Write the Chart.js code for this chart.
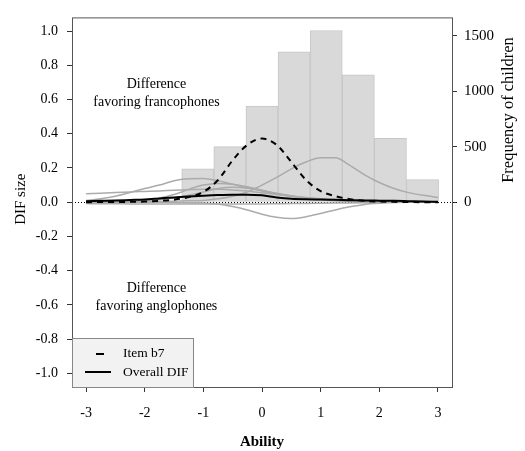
<!DOCTYPE html>
<html>
<head>
<meta charset="utf-8">
<script src="https://cdn.jsdelivr.net/npm/chart.js@4"></script>
<style>
  body { margin: 0; background: #fff; }
  canvas { display: block; }
</style>
</head>
<body>
<canvas id="difChart" width="525" height="451"></canvas>
<script>
// ===================================
// DIF CURVES + ABILITY HISTOGRAM
// ===================================

// histogram of ability (right axis)
const binCenters = [-1.095, -0.5475, 0, 0.5475, 1.095, 1.6425, 2.19, 2.7375];
const binCounts  = [300, 500, 866, 1355, 1546, 1146, 576, 203];

// ability grid the curves are read at
const abilityGrid = [-3, -2.75, -2.5, -2.25, -2, -1.75, -1.5, -1.25, -1, -0.75, -0.5, -0.25,
                     0, 0.25, 0.5, 0.75, 1, 1.25, 1.5, 1.75, 2, 2.25, 2.5, 2.75, 3];

// highlighted item and overall DIF
const itemB7     = [0, 0.001, 0.001, 0.002, 0.004, 0.008, 0.015, 0.03, 0.06, 0.13, 0.245, 0.335,
                    0.372, 0.335, 0.235, 0.13, 0.065, 0.035, 0.018, 0.008, 0.004, 0.002, 0.001, 0, 0];
const overallDif = [0.006, 0.008, 0.010, 0.013, 0.016, 0.022, 0.028, 0.033, 0.038, 0.042, 0.044, 0.044,
                    0.040, 0.028, 0.020, 0.017, 0.016, 0.014, 0.012, 0.010, 0.009, 0.008, 0.006, 0.004, 0.003];

// other items (gray)
const otherItems = [
    [0, 0, 0.001, 0.002, 0.003, 0.004, 0.006, 0.008, 0.01, 0.02, 0.035, 0.06,
     0.10, 0.145, 0.195, 0.235, 0.26, 0.26, 0.215, 0.16, 0.115, 0.08, 0.056, 0.04, 0.028],
    [0, 0, 0, 0, 0, -0.001, -0.002, -0.003, -0.004, -0.01, -0.025, -0.045,
     -0.07, -0.088, -0.095, -0.085, -0.066, -0.045, -0.027, -0.013, -0.006, -0.002, 0, 0, 0],
    [0.01, 0.02, 0.035, 0.057, 0.08, 0.1, 0.125, 0.137, 0.138, 0.125, 0.105, 0.085,
     0.065, 0.048, 0.035, 0.025, 0.017, 0.012, 0.008, 0.005, 0.003, 0.002, 0.001, 0, 0],
    [0.05, 0.053, 0.056, 0.06, 0.063, 0.066, 0.07, 0.073, 0.075, 0.075, 0.072, 0.065,
     0.055, 0.045, 0.035, 0.027, 0.02, 0.015, 0.01, 0.007, 0.004, 0.002, 0.001, 0, 0],
    [0, 0.002, 0.005, 0.009, 0.015, 0.025, 0.045, 0.075, 0.1, 0.11, 0.105, 0.09,
     0.07, 0.05, 0.035, 0.022, 0.014, 0.008, 0.005, 0.003, 0.002, 0.001, 0, 0, 0],
    [0, 0.002, 0.004, 0.006, 0.008, 0.015, 0.025, 0.04, 0.06, 0.08, 0.088, 0.082,
     0.068, 0.052, 0.038, 0.026, 0.017, 0.011, 0.007, 0.004, 0.002, 0.001, 0, 0, 0],
    [-0.008, -0.009, -0.009, -0.01, -0.01, -0.01, -0.01, -0.01, -0.01, -0.01, -0.01, -0.01,
     -0.01, -0.009, -0.008, -0.007, -0.006, -0.005, -0.004, -0.003, -0.002, -0.001, 0, 0, 0]
];

// axis ticks
const abilityTicks = [-3, -2, -1, 0, 1, 2, 3];
const difTicks     = [-1.0, -0.8, -0.6, -0.4, -0.2, 0.0, 0.2, 0.4, 0.6, 0.8, 1.0];
const freqTicks    = [0, 500, 1000, 1500];

const FONT = '"Liberation Serif", "Times New Roman", serif';
const GRAY = '#ababab';

function toPoints(values) {
    return abilityGrid.map((a, i) => ({ x: a, y: values[i] }));
}

// box, zero line, annotations, titles and legend
const decorPlugin = {
    id: 'decor',
    beforeDatasetsDraw(chart) {
        const { ctx, chartArea: a, scales } = chart;
        const y0 = Math.round(scales.y.getPixelForValue(0));
        ctx.save();
        ctx.strokeStyle = '#000';
        ctx.lineWidth = 1;
        ctx.setLineDash([1, 2]);
        ctx.beginPath();
        ctx.moveTo(a.left, y0 + 0.5);
        ctx.lineTo(a.right + 6, y0 + 0.5);
        ctx.stroke();
        ctx.restore();
    },
    afterDraw(chart) {
        const { ctx, chartArea: a, scales } = chart;
        ctx.save();

        // plot box
        ctx.strokeStyle = '#555';
        ctx.lineWidth = 1;
        ctx.strokeRect(a.left + 0.5, a.top + 0.5, a.right - a.left, a.bottom - a.top);

        // annotations
        ctx.fillStyle = '#000';
        ctx.font = '14px ' + FONT;
        ctx.textAlign = 'center';
        ctx.textBaseline = 'middle';
        const tx = scales.x.getPixelForValue(-1.8);
        ctx.fillText('Difference', tx, scales.y.getPixelForValue(0.69));
        ctx.fillText('favoring francophones', tx, scales.y.getPixelForValue(0.585));
        ctx.fillText('Difference', tx, scales.y.getPixelForValue(-0.505));
        ctx.fillText('favoring anglophones', tx, scales.y.getPixelForValue(-0.61));

        // axis titles
        ctx.font = 'bold 15px ' + FONT;
        ctx.fillText('Ability', (a.left + a.right) / 2, 442);
        ctx.font = '15px ' + FONT;
        ctx.save();
        ctx.translate(21, (a.top + a.bottom) / 2 - 3);
        ctx.rotate(-Math.PI / 2);
        ctx.fillText('DIF size', 0, 0);
        ctx.restore();
        ctx.font = '16.5px ' + FONT;
        ctx.save();
        ctx.translate(509, 110);
        ctx.rotate(-Math.PI / 2);
        ctx.fillText('Frequency of children', 0, 0);
        ctx.restore();

        // legend box
        const lx = a.left, ly = 338, lw = 121, lh = a.bottom - 338;
        ctx.fillStyle = '#f2f2f2';
        ctx.fillRect(lx, ly, lw, lh);
        ctx.strokeStyle = '#888';
        ctx.strokeRect(lx + 0.5, ly + 0.5, lw, lh);
        ctx.strokeStyle = '#000';
        ctx.lineWidth = 2;
        ctx.beginPath();
        ctx.moveTo(96, 354);
        ctx.lineTo(104, 354);
        ctx.stroke();
        ctx.beginPath();
        ctx.moveTo(85, 372);
        ctx.lineTo(111, 372);
        ctx.stroke();
        ctx.fillStyle = '#000';
        ctx.font = '13.5px ' + FONT;
        ctx.textAlign = 'left';
        ctx.fillText('Item b7', 123, 353.5);
        ctx.fillText('Overall DIF', 123, 372);

        ctx.restore();
    }
};

const datasets = [];

datasets.push({
    type: 'bar',
    label: 'Frequency',
    yAxisID: 'y2',
    data: binCenters.map((c, i) => ({ x: c, y: binCounts[i] })),
    backgroundColor: '#d9d9d9',
    borderColor: '#c6c6c6',
    borderWidth: 1,
    barPercentage: 1,
    categoryPercentage: 1,
    order: 10
});

otherItems.forEach((vals, i) => {
    datasets.push({
        type: 'line',
        label: 'Item ' + (i + 1),
        yAxisID: 'y',
        data: toPoints(vals),
        borderColor: GRAY,
        borderWidth: 1.5,
        pointRadius: 0,
        cubicInterpolationMode: 'monotone',
        order: 5
    });
});

datasets.push({
    type: 'line',
    label: 'Overall DIF',
    yAxisID: 'y',
    data: toPoints(overallDif),
    borderColor: '#000',
    borderWidth: 2,
    pointRadius: 0,
    cubicInterpolationMode: 'monotone',
    order: 2
});

datasets.push({
    type: 'line',
    label: 'Item b7',
    yAxisID: 'y',
    data: toPoints(itemB7),
    borderColor: '#000',
    borderWidth: 2,
    borderDash: [6, 5],
    pointRadius: 0,
    cubicInterpolationMode: 'monotone',
    order: 1
});

const tickStyle = { color: '#000', font: { family: FONT, size: 14 } };

new Chart(document.getElementById('difChart').getContext('2d'), {
    type: 'line',
    data: { datasets: datasets },
    options: {
        responsive: false,
        animation: false,
        layout: { padding: { top: 8, left: 0, right: 0, bottom: 0 } },
        plugins: { legend: { display: false }, tooltip: { enabled: false } },
        scales: {
            x: {
                type: 'linear',
                min: -3.24,
                max: 3.24,
                offset: false,
                afterBuildTicks: s => { s.ticks = abilityTicks.map(v => ({ value: v })); },
                afterFit: s => { s.height = 64; },
                grid: { offset: false, drawOnChartArea: false, tickLength: 5, tickColor: '#333' },
                border: { display: false },
                ticks: Object.assign({ padding: 13, maxRotation: 0 }, tickStyle)
            },
            y: {
                position: 'left',
                min: -1.08,
                max: 1.08,
                afterBuildTicks: s => { s.ticks = difTicks.map(v => ({ value: v })); },
                afterFit: s => { s.width = 72; },
                grid: { drawOnChartArea: false, tickLength: 5, tickColor: '#333' },
                border: { display: false },
                ticks: Object.assign({ padding: 9, callback: v => Number(v).toFixed(1) }, tickStyle)
            },
            y2: {
                position: 'right',
                min: -1664,
                max: 1664,
                afterBuildTicks: s => { s.ticks = freqTicks.map(v => ({ value: v })); },
                afterFit: s => { s.width = 73; },
                grid: { drawOnChartArea: false, tickLength: 5, tickColor: '#333' },
                border: { display: false },
                ticks: { padding: 7, callback: v => String(v), color: '#000', font: { family: FONT, size: 15 } }
            }
        }
    },
    plugins: [decorPlugin]
});
</script>
</body>
</html>
